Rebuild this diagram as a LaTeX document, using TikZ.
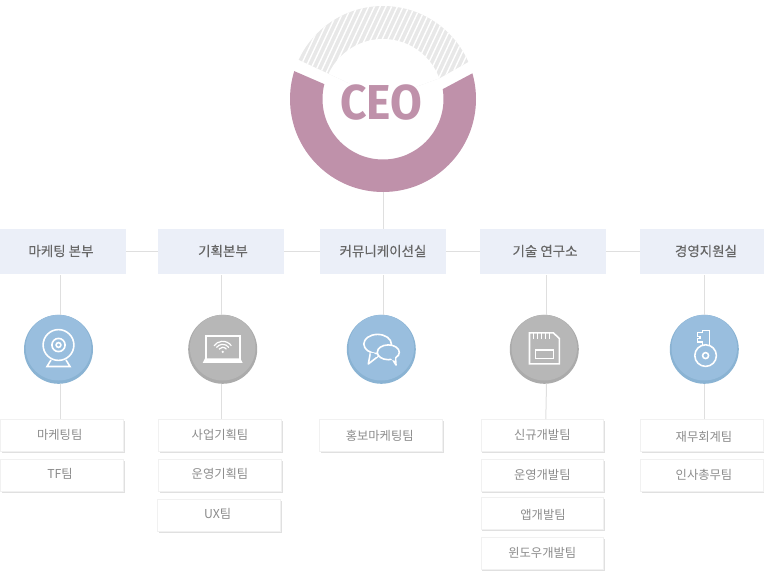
\documentclass[tikz,border=0pt]{standalone}
\usepackage{fontspec}
\setmainfont{Noto Sans CJK KR}
\newfontfamily\ceofont{Fira Sans}
\newfontfamily\hdfont[FakeBold=0.2]{Noto Sans CJK KR}
\usetikzlibrary{shadows}
\definecolor{pinkc}{HTML}{BF91AA}
\definecolor{hatchc}{HTML}{E8E8E8}
\definecolor{linec}{HTML}{DFDFDF}
\definecolor{hdfill}{HTML}{EBEFF8}
\definecolor{hdtext}{HTML}{666666}
\definecolor{tmtext}{HTML}{8C8C8C}
\definecolor{tmedge}{HTML}{F1F1F1}
\definecolor{tmshadow}{HTML}{E0E0E0}
\definecolor{bluelt}{HTML}{99BEDE}
\definecolor{bluedk}{HTML}{8AB3D3}
\definecolor{greylt}{HTML}{B7B7B7}
\definecolor{greydk}{HTML}{ABABAB}
\newcommand{\nudged}[3]{\kern#1pt\kern#1pt\raisebox{\dimexpr #2pt-.38em\relax}[0pt][0pt]{#3}}
\tikzset{
  conn/.style={draw=linec,line width=1pt},
  hdbox/.style={fill=hdfill,text=hdtext,minimum height=44.7pt,inner sep=0pt,font=\hdfont\fontsize{13.5}{15}\selectfont},
  teambox/.style={draw=tmedge,line width=.8pt,fill=white,text=tmtext,minimum width=122.6pt,minimum height=32pt,inner sep=0pt,
    drop shadow={shadow xshift=1.2pt,shadow yshift=-1.2pt,fill=tmshadow,opacity=1},font=\fontsize{12.3}{14}\selectfont},
  disc/.style={circle,minimum size=69pt,inner sep=0pt},
  blued/.style={disc,fill=bluedk},
  greyd/.style={disc,fill=greydk},
  icon/.style={draw=white,line width=1.6pt,line join=miter},
}
\begin{document}
\begin{tikzpicture}[x=1pt,y=1pt]
\useasboundingbox (0,0) rectangle (764,-578);
% CEO ring
\begin{scope}
  \clip (270,-60.6) -- (324,-84) -- (383,-99) -- (443,-89) -- (500,-58.6) -- (500,-200) -- (270,-200) -- cycle;
  \fill[pinkc,even odd rule] (383,-99) circle[radius=93] (383,-99) circle[radius=60.5];
\end{scope}
\begin{scope}
  \clip (270,-46.5) -- (327,-73) -- (383,-99) -- (440,-78) -- (500,-44) -- (500,0) -- (270,0) -- cycle;
  \clip (383,-99) circle[radius=93];
  \fill[hatchc] (280,0) rectangle (490,-90);
  \foreach \k in {0,...,46}{
    \draw[white,line width=1.4pt] ({255+\k*5.75},-90) -- ({255+\k*5.75+42},0);
  }
  \fill[white] (383,-99) circle[radius=60];
\end{scope}
\node[circle,minimum size=186pt,inner sep=0pt] (ceo) at (383,-99) {};
\node[text=pinkc,font=\ceofont\bfseries\fontsize{49}{50}\selectfont,inner sep=0pt,xscale=.94] (ceolabel) at (381.3,-102.5) {CEO};
% Header boxes
\node[hdbox,minimum width=126pt] (hA) at (63,-251.3) {\nudged{-2}{.3}{마케팅 본부}};
\node[hdbox,minimum width=126pt] (hB) at (221,-251.3) {\nudged{2}{.3}{기획본부}};
\node[hdbox,minimum width=126pt] (hC) at (383,-251.3) {\nudged{0}{.3}{커뮤니케이션실}};
\node[hdbox,minimum width=126pt] (hD) at (543,-251.3) {\nudged{2}{.3}{기술 연구소}};
\node[hdbox,minimum width=124pt] (hE) at (702,-251.3) {\nudged{4}{.3}{경영지원실}};
% Icon discs
\node[blued] (iA) at (58.5,-349.3) {};
\node[greyd] (iB) at (222.7,-349.3) {};
\node[blued] (iC) at (381.3,-349.3) {};
\node[greyd] (iD) at (544.3,-349.3) {};
\node[blued] (iE) at (704.3,-349.3) {};
\foreach \n/\c in {iA/bluelt,iB/greylt,iC/bluelt,iD/greylt,iE/bluelt}{
  \fill[\c] ([yshift=1.6pt]\n.center) circle[radius=32.8];
}
% Team boxes
\node[teambox] (t1) at (62,-435.5) {\nudged{-2.3}{.5}{마케팅팀}};
\node[teambox] (t2) at (62,-475.7) {\nudged{-2}{2.2}{TF팀}};
\node[teambox] (t3) at (220,-435.5) {\nudged{0}{.5}{사업기획팀}};
\node[teambox] (t4) at (220,-475.7) {\nudged{0}{2.2}{운영기획팀}};
\node[teambox] (t5) at (219,-515.5) {\nudged{-1.3}{1.5}{UX팀}};
\node[teambox] (t6) at (381,-435.5) {\nudged{-1.3}{-.5}{홍보마케팅팀}};
\node[teambox] (t7) at (542.3,-435.5) {\nudged{0}{.5}{신규개발팀}};
\node[teambox] (t8) at (542.3,-475.7) {\nudged{0}{.7}{운영개발팀}};
\node[teambox] (t9) at (542.3,-513.5) {\nudged{.7}{-1.5}{앱개발팀}};
\node[teambox] (t10) at (542.3,-553.5) {\nudged{0}{.5}{윈도우개발팀}};
\node[teambox] (t11) at (702,-435.5) {\nudged{2}{-1.2}{재무회계팀}};
\node[teambox] (t12) at (702,-475.7) {\nudged{2}{.7}{인사총무팀}};
% Connectors
\draw[conn] (ceo.south) -- (hC.north);
\draw[conn] (hA.east) -- (hB.west);
\draw[conn] (hB.east) -- (hC.west);
\draw[conn] (hC.east) -- (hD.west);
\draw[conn] (hD.east) -- (hE.west);
\draw[conn] ([xshift=-2.5pt,yshift=-1.3pt]hA.south) -- ([xshift=2pt]iA.north);
\draw[conn] ([xshift=.5pt,yshift=-1.3pt]hB.south) -- ([xshift=-1.2pt]iB.north);
\draw[conn] ([yshift=-1.3pt]hC.south) -- ([xshift=1.7pt]iC.north);
\draw[conn] ([xshift=3.5pt,yshift=-1.3pt]hD.south) -- ([xshift=2.2pt]iD.north);
\draw[conn] ([xshift=2.7pt,yshift=-1.3pt]hE.south) -- ([xshift=.4pt]iE.north);
\draw[conn] ([xshift=2pt]iA.south) -- ([xshift=-1.5pt]t1.north);
\draw[conn] ([xshift=-1.2pt]iB.south) -- ([xshift=1.5pt]t3.north);
\draw[conn] ([xshift=2.2pt]iD.south) -- ([xshift=3.5pt]t7.north);
\draw[conn] ([xshift=.4pt]iE.south) -- ([xshift=2.7pt]t11.north);
% Icon: webcam
\begin{scope}[shift={(iA.center)}]
  \draw[icon] (0,4.3) circle[radius=15.4];
  \draw[icon] (0,4.3) circle[radius=6.6];
  \draw[icon] (0,4.3) circle[radius=2.4];
  \draw[icon] (-7.5,-10.7) -- (-11.5,-17.2) -- (11.5,-17.2) -- (7.5,-10.7);
\end{scope}
% Icon: laptop
\begin{scope}[shift={(iB.center)}]
  \draw[icon] (-17,-9.5) -- (-17,13.2) -- (17,13.2) -- (17,-9.5);
  \fill[white] (-17.6,-9) -- (17.6,-9) -- (20,-13.6) -- (-20,-13.6) -- cycle;
  \fill[white] (0,-2.6) circle[radius=1.3];
  \foreach \r in {4.6,7.6,10.6}{
    \draw[white,line width=1.2pt] ({\r*cos(35)},{-2.6+\r*sin(35)}) arc[start angle=35,end angle=145,radius=\r];
  }
\end{scope}
% Icon: speech bubbles
\begin{scope}[shift={(iC.center)}]
  \draw[icon,line join=round] (-10.5,-1.5) -- (-13,-14.7) -- (-2.5,-6.5);
  \draw[icon,fill=bluelt] (-3.7,5.3) ellipse[x radius=13.8,y radius=9.6];
  \fill[bluelt] (-10.8,-3.4) -- (-7,-4) -- (-4,-7.5) -- (-10,-8) -- cycle;
  \draw[icon,line join=round,fill=bluelt] (10,-8) -- (14.7,-15.7) -- (14,-5.5);
  \draw[icon,fill=bluelt] (7,-3) ellipse[x radius=11,y radius=7.4];
  \fill[bluelt] (9.6,-9) -- (13.7,-7.5) -- (13.5,-11) -- (11.2,-11) -- cycle;
\end{scope}
% Icon: memory card
\begin{scope}[shift={(iD.center)}]
  \draw[icon] (-14.8,16.5) -- (9,16.5) -- (15,10.8) -- (15,-14.5) -- (-14.8,-14.5) -- cycle;
  \foreach \x in {-10.8,-6.8,-2.7,1.3,5.2}{
    \draw[white,line width=1.2pt] (\x,16) -- (\x,10.8);
  }
  \draw[icon] (-8.7,-.7) rectangle (9.3,-9);
\end{scope}
% Icon: key
\begin{scope}[shift={(iE.center)}]
  \draw[icon] (1.3,-6.3) circle[radius=10.8];
  \draw[icon] (1.3,-6.3) circle[radius=3];
  \draw[icon] (-1.7,4.2) -- (-1.7,7.3) -- (-7,7.3) -- (-7,11) -- (-4.3,11) -- (-4.3,12.7) -- (-7,12.7) -- (-7,16.7) -- (-1.7,16.7) -- (-1.7,18.7) -- (5,18.7) -- (5,4.2);
\end{scope}
\end{tikzpicture}
\end{document}
